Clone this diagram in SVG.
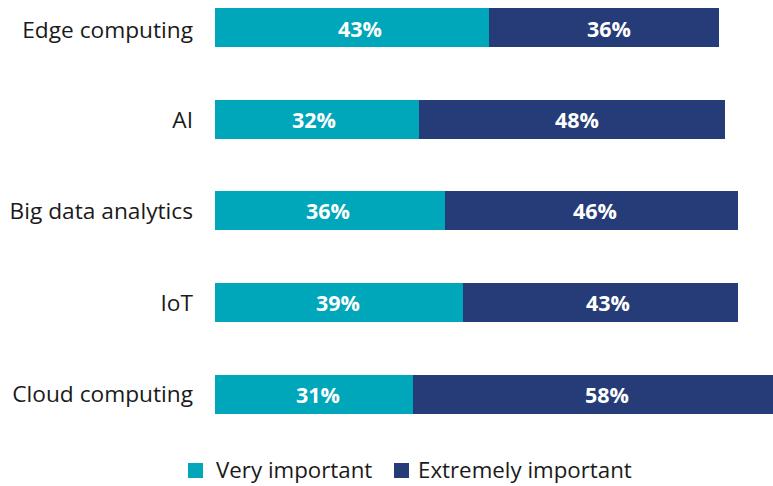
<svg xmlns="http://www.w3.org/2000/svg" width="773" height="486" viewBox="0 0 773 486">
<style>
.lbl{font-family:"Open Sans","Liberation Sans",sans-serif;font-size:22.7px;fill:#1a1a1a;text-anchor:end}
.val{font-family:"Open Sans","Liberation Sans",sans-serif;font-size:21.5px;font-weight:bold;fill:#ffffff;text-anchor:middle}
.leg{font-family:"Open Sans","Liberation Sans",sans-serif;font-size:22.3px;fill:#1a1a1a}
.t{fill:#00a6b9}
.n{fill:#253c78}
</style>
<rect width="773" height="486" fill="#ffffff"/>
<g id="edge">
<text class="lbl" x="193" y="37.5">Edge computing</text>
<rect class="t" x="215" y="8" width="274" height="39"/>
<rect class="n" x="489" y="8" width="230" height="39"/>
<text class="val" x="360" y="36.7">43%</text>
<text class="val" x="609" y="36.7">36%</text>
</g>
<g id="ai">
<text class="lbl" x="193" y="128.3">AI</text>
<rect class="t" x="215" y="100" width="204" height="39"/>
<rect class="n" x="419" y="100" width="306" height="39"/>
<text class="val" x="314" y="128.3">32%</text>
<text class="val" x="577" y="128.3">48%</text>
</g>
<g id="bigdata">
<text class="lbl" x="193" y="219.3">Big data analytics</text>
<rect class="t" x="215" y="191" width="230" height="39"/>
<rect class="n" x="445" y="191" width="293" height="39"/>
<text class="val" x="328" y="218.5">36%</text>
<text class="val" x="595" y="218.5">46%</text>
</g>
<g id="iot">
<text class="lbl" x="193" y="310.7">IoT</text>
<rect class="t" x="215" y="283" width="248" height="39"/>
<rect class="n" x="463" y="283" width="275" height="39"/>
<text class="val" x="338" y="311">39%</text>
<text class="val" x="608" y="311">43%</text>
</g>
<g id="cloud">
<text class="lbl" x="193" y="402.3">Cloud computing</text>
<rect class="t" x="215" y="375" width="198" height="39"/>
<rect class="n" x="413" y="375" width="360" height="39"/>
<text class="val" x="318" y="402.7">31%</text>
<text class="val" x="607" y="402.7">58%</text>
</g>
<g id="legend">
<rect class="t" x="188" y="463" width="15" height="15"/>
<text class="leg" x="216" y="477.5">Very important</text>
<rect class="n" x="394" y="463" width="15" height="15"/>
<text class="leg" x="418" y="477.5">Extremely important</text>
</g>
<g id="connectors"/>
</svg>
